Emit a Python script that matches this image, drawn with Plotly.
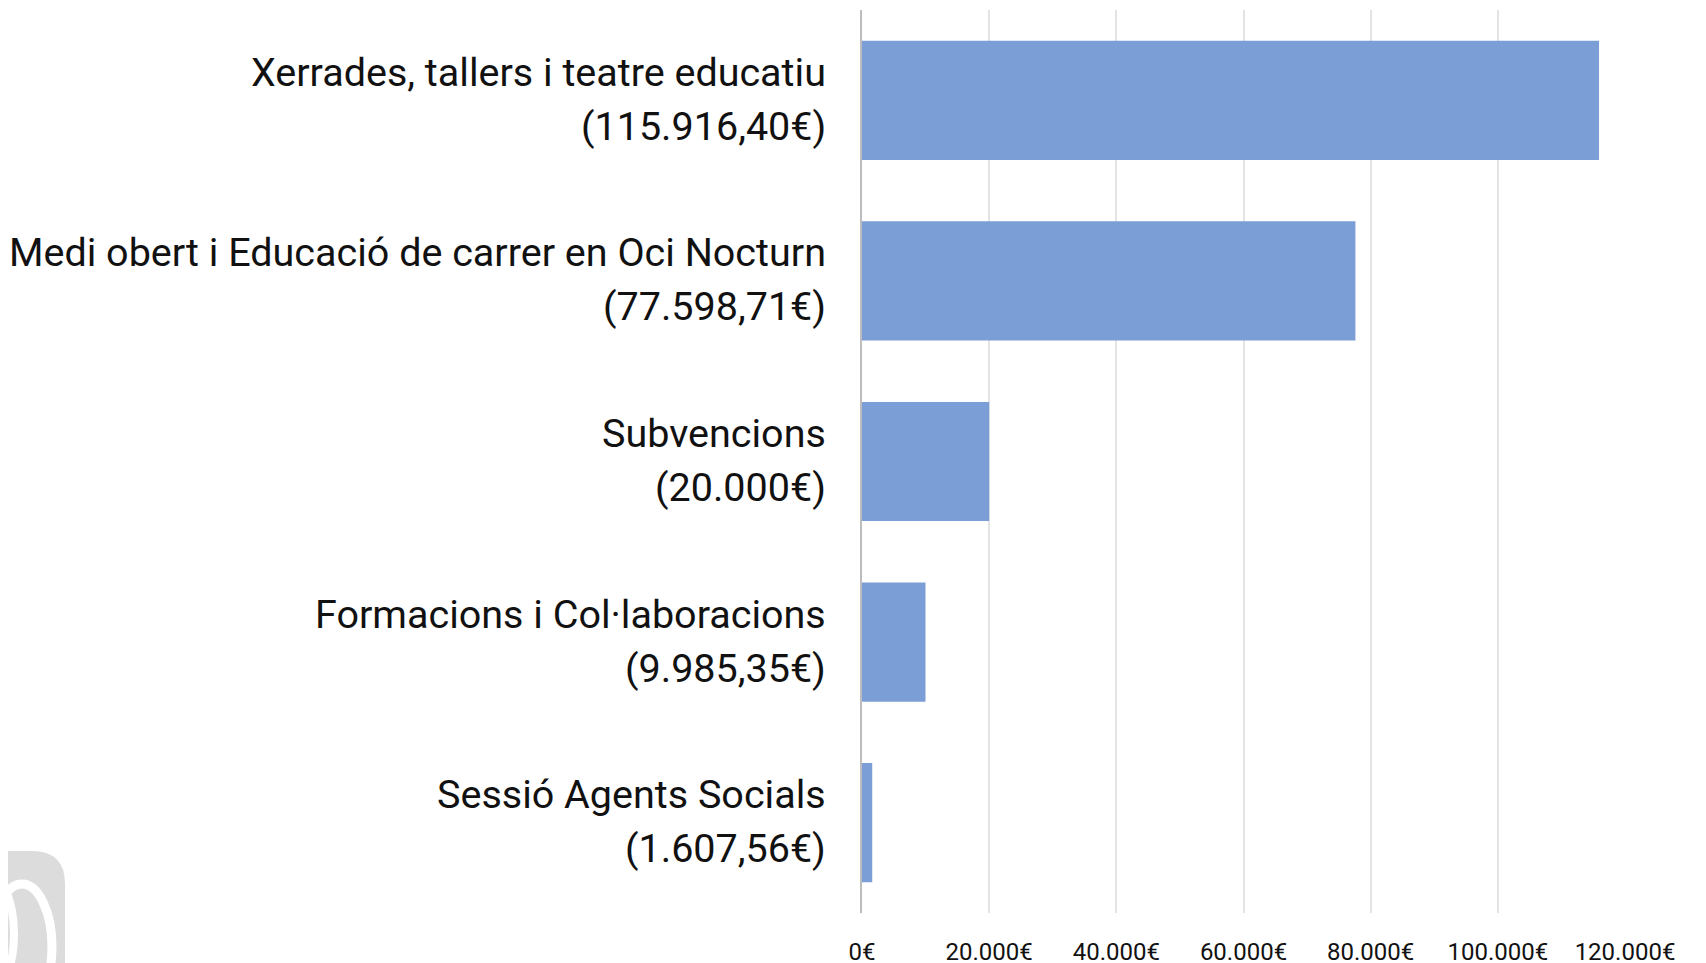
import plotly.graph_objects as go

# ---- data ----
categories = [
    "Xerrades, tallers i teatre educatiu",
    "Medi obert i Educació de carrer en Oci Nocturn",
    "Subvencions",
    "Formacions i Col·laboracions",
    "Sessió Agents Socials",
]
amount_labels = ["(115.916,40€)", "(77.598,71€)", "(20.000€)", "(9.985,35€)", "(1.607,56€)"]
values = [115916.40, 77598.71, 20000, 9985.35, 1607.56]
tick_vals = [0, 20000, 40000, 60000, 80000, 100000, 120000]
tick_text = ["0€", "20.000€", "40.000€", "60.000€", "80.000€", "100.000€", "120.000€"]

# ---- layout geometry (pixels, figure coordinates; page has 8px body margin) ----
OFF = 8
W_PX, H_PX = 1706, 963
L, R, T, B = 854, 89, 2, 58
PW, PH = W_PX - L - R, H_PX - T - B

def px_x(p):  # p in page pixels
    return (p - OFF - L) / PW

def px_y(q):  # q in page pixels
    return 1 - (q - OFF - T) / PH

BAR = "#7B9ED6"
TXT = "#111111"
LABEL_SIZE = 39.5

fig = go.Figure()
fig.add_trace(go.Bar(
    x=values, y=categories, orientation="h",
    marker=dict(color=BAR, line=dict(width=0)),
    hoverinfo="x+y",
))

annotations = []
for cat, amt in zip(categories, amount_labels):
    annotations.append(dict(
        x=px_x(828), xref="paper", y=cat, yref="y", text=cat,
        showarrow=False, xanchor="right", yanchor="middle", yshift=28,
        font=dict(family="Roboto", size=LABEL_SIZE, color=TXT),
    ))
    annotations.append(dict(
        x=px_x(828), xref="paper", y=cat, yref="y", text=amt,
        showarrow=False, xanchor="right", yanchor="middle", yshift=-26,
        font=dict(family="Roboto", size=LABEL_SIZE, color=TXT),
    ))

# decorative logo fragment (bottom-left)
x0, x1 = px_x(-40), px_x(65)
y0, y1 = px_y(851), px_y(1000)
rx = 33 / PW
ry = 33 / PH
logo_path = (
    f"M {x0},{y1} L {x0},{y0} L {x1 - rx},{y0} "
    f"Q {x1},{y0} {x1},{y0 - ry} L {x1},{y1} Z"
)
shapes = [
    dict(type="path", xref="paper", yref="paper", path=logo_path,
         fillcolor="#DCDCDC", line=dict(width=0), layer="above"),
    dict(type="circle", xref="paper", yref="paper",
         x0=px_x(-8), x1=px_x(52), y0=px_y(1010), y1=px_y(884),
         line=dict(color="white", width=9), layer="above"),
    dict(type="circle", xref="paper", yref="paper",
         x0=px_x(-52), x1=px_x(14), y0=px_y(1000), y1=px_y(868),
         line=dict(color="white", width=8), layer="above"),
]

fig.update_layout(
    width=W_PX, height=H_PX,
    margin=dict(l=L, r=R, t=T, b=B, pad=0),
    paper_bgcolor="white", plot_bgcolor="white",
    bargap=0.34,
    showlegend=False,
    annotations=annotations,
    shapes=shapes,
    xaxis=dict(
        range=[0, 120000], tickvals=tick_vals, ticktext=tick_text,
        showgrid=True, gridcolor="#E4E4E4", gridwidth=2,
        zeroline=False, showline=False,
        ticks="outside", ticklen=17, tickcolor="rgba(0,0,0,0)",
        tickfont=dict(family="Roboto", size=24, color=TXT),
    ),
    yaxis=dict(
        categoryorder="array", categoryarray=categories,
        range=[4.5, -0.5], showticklabels=False,
        showgrid=False, zeroline=False,
        showline=True, linecolor="#BDBDBD", linewidth=2,
    ),
)

fig.write_html("out.html")
